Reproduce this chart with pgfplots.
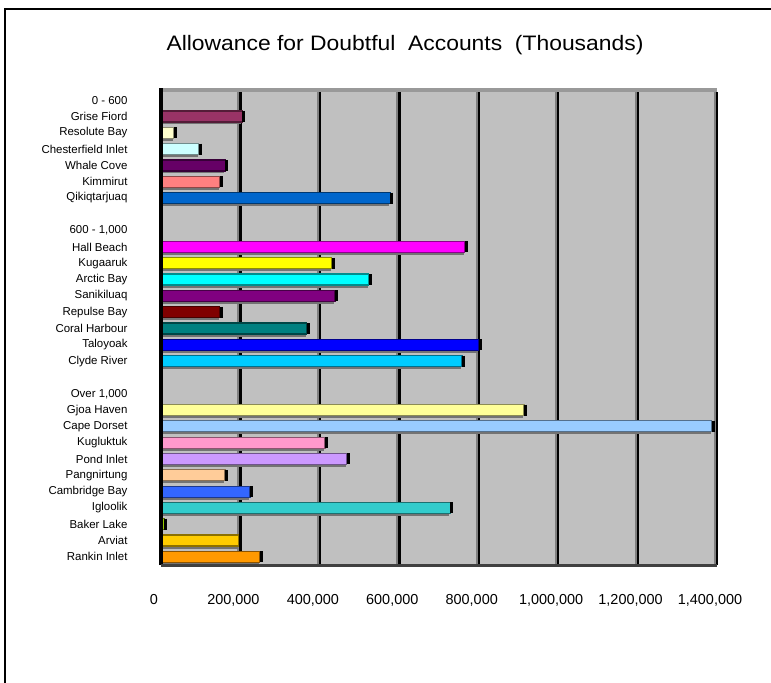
\documentclass[border=0pt]{standalone}
\usepackage{pgfplots}
\pgfplotsset{compat=1.18}
\usepackage{fontspec}
\setmainfont{Liberation Sans}
\definecolor{cGrise}{RGB}{153,51,102}
\definecolor{cResolute}{RGB}{255,255,204}
\definecolor{cChester}{RGB}{204,255,255}
\definecolor{cWhale}{RGB}{102,0,102}
\definecolor{cKimmirut}{RGB}{255,128,128}
\definecolor{cQikiq}{RGB}{0,102,204}
\definecolor{cHall}{RGB}{255,0,255}
\definecolor{cKugaaruk}{RGB}{255,255,0}
\definecolor{cArctic}{RGB}{0,255,255}
\definecolor{cSanik}{RGB}{128,0,128}
\definecolor{cRepulse}{RGB}{128,0,0}
\definecolor{cCoral}{RGB}{0,128,128}
\definecolor{cTaloyoak}{RGB}{0,0,255}
\definecolor{cClyde}{RGB}{0,204,255}
\definecolor{cGjoa}{RGB}{255,255,153}
\definecolor{cCape}{RGB}{153,204,255}
\definecolor{cKugluktuk}{RGB}{255,153,204}
\definecolor{cPond}{RGB}{204,153,255}
\definecolor{cPang}{RGB}{255,204,153}
\definecolor{cCambridge}{RGB}{51,102,255}
\definecolor{cIgloolik}{RGB}{51,204,204}
\definecolor{cBaker}{RGB}{153,204,0}
\definecolor{cArviat}{RGB}{255,204,0}
\definecolor{cRankin}{RGB}{255,153,0}
\definecolor{wallgray}{RGB}{192,192,192}
\pgfplotsset{br/.style={xbar, bar shift=0pt, bar width=11bp, fill=#1, draw=#1!55!black, line width=1.2bp,
  preaction={fill=black!55, draw=none, transform canvas={xshift=-1bp, yshift=-2.5bp}},
  mark=|, mark size=5.5bp, mark options={draw=black, line width=3bp, xshift=1.5bp, solid}}}
\begin{document}
\begin{tikzpicture}
\useasboundingbox (0bp,0bp) rectangle (771bp,-683bp);
\draw[line width=2.5bp] (5bp,-700bp) -- (5bp,-9bp) -- (790bp,-9bp);
\node[font=\fontsize{21}{25}\selectfont] at (405bp,-45bp) {\resizebox{477bp}{\height}{Allowance for Doubtful\ \ Accounts\ \ (Thousands)}};
\begin{axis}[
  at={(161bp,-565bp)}, anchor=south west,
  scale only axis, width=556bp, height=473bp,
  xmin=0, xmax=1400000, ymin=-0.5, ymax=28.5,
  axis background/.style={fill=wallgray},
  axis line style={draw=none},
  xmajorgrids, major grid style={black, line width=2.5bp},
  major tick length=0pt,
  scaled x ticks=false,
  xtick={0,200000,400000,600000,800000,1000000,1200000,1400000},
  xticklabels={0,{200,000},{400,000},{600,000},{800,000},{1,000,000},{1,200,000},{1,400,000}},
  xticklabel style={font=\fontsize{14.5}{16}\selectfont, yshift=-26bp, xshift=-7bp},
  extra x ticks={195000,395000,595000,795000,995000,1195000,1395000},
  extra x tick labels={},
  extra x tick style={major grid style={black!50, line width=2bp}},
  ytick={0,...,28},
  yticklabels={Rankin Inlet, Arviat, Baker Lake, Igloolik, Cambridge Bay, Pangnirtung, Pond Inlet, Kugluktuk, Cape Dorset, Gjoa Haven, {Over 1,000}, {}, Clyde River, Taloyoak, Coral Harbour, Repulse Bay, Sanikiluaq, Arctic Bay, Kugaaruk, Hall Beach, {600 - 1,000}, {}, Qikiqtarjuaq, Kimmirut, Whale Cove, Chesterfield Inlet, Resolute Bay, Grise Fiord, {0 - 600}},
  yticklabel style={font=\fontsize{11.5}{13}\selectfont, anchor=east, xshift=-30bp},
  clip=false,
]
\addplot[br=cGrise] coordinates {(205000,27)};
\addplot[br=cResolute] coordinates {(32000,26)};
\addplot[br=cChester] coordinates {(95000,25)};
\addplot[br=cWhale] coordinates {(162000,24)};
\addplot[br=cKimmirut] coordinates {(148000,23)};
\addplot[br=cQikiq] coordinates {(577000,22)};
\addplot[br=cHall] coordinates {(765000,19)};
\addplot[br=cKugaaruk] coordinates {(430000,18)};
\addplot[br=cArctic] coordinates {(523000,17)};
\addplot[br=cSanik] coordinates {(438000,16)};
\addplot[br=cRepulse] coordinates {(148000,15)};
\addplot[br=cCoral] coordinates {(367000,14)};
\addplot[br=cTaloyoak] coordinates {(800000,13)};
\addplot[br=cClyde] coordinates {(758000,12)};
\addplot[br=cGjoa] coordinates {(914000,9)};
\addplot[br=cCape] coordinates {(1387000,8)};
\addplot[br=cKugluktuk] coordinates {(413000,7)};
\addplot[br=cPond] coordinates {(468000,6)};
\addplot[br=cPang] coordinates {(161000,5)};
\addplot[br=cCambridge] coordinates {(224000,4)};
\addplot[br=cIgloolik] coordinates {(728000,3)};
\addplot[br=cBaker] coordinates {(8000,2)};
\addplot[br=cArviat] coordinates {(196000,1)};
\addplot[br=cRankin] coordinates {(249000,0)};
\fill[black!40] (rel axis cs:0,1) rectangle ([yshift=4bp]rel axis cs:1,1);
\draw[black, line width=3.5bp] (rel axis cs:0,0) -- ([yshift=4bp]rel axis cs:0,1);
\draw[black!75, line width=3bp] (rel axis cs:0,0) -- (rel axis cs:1,0);
\end{axis}
\end{tikzpicture}
\end{document}
